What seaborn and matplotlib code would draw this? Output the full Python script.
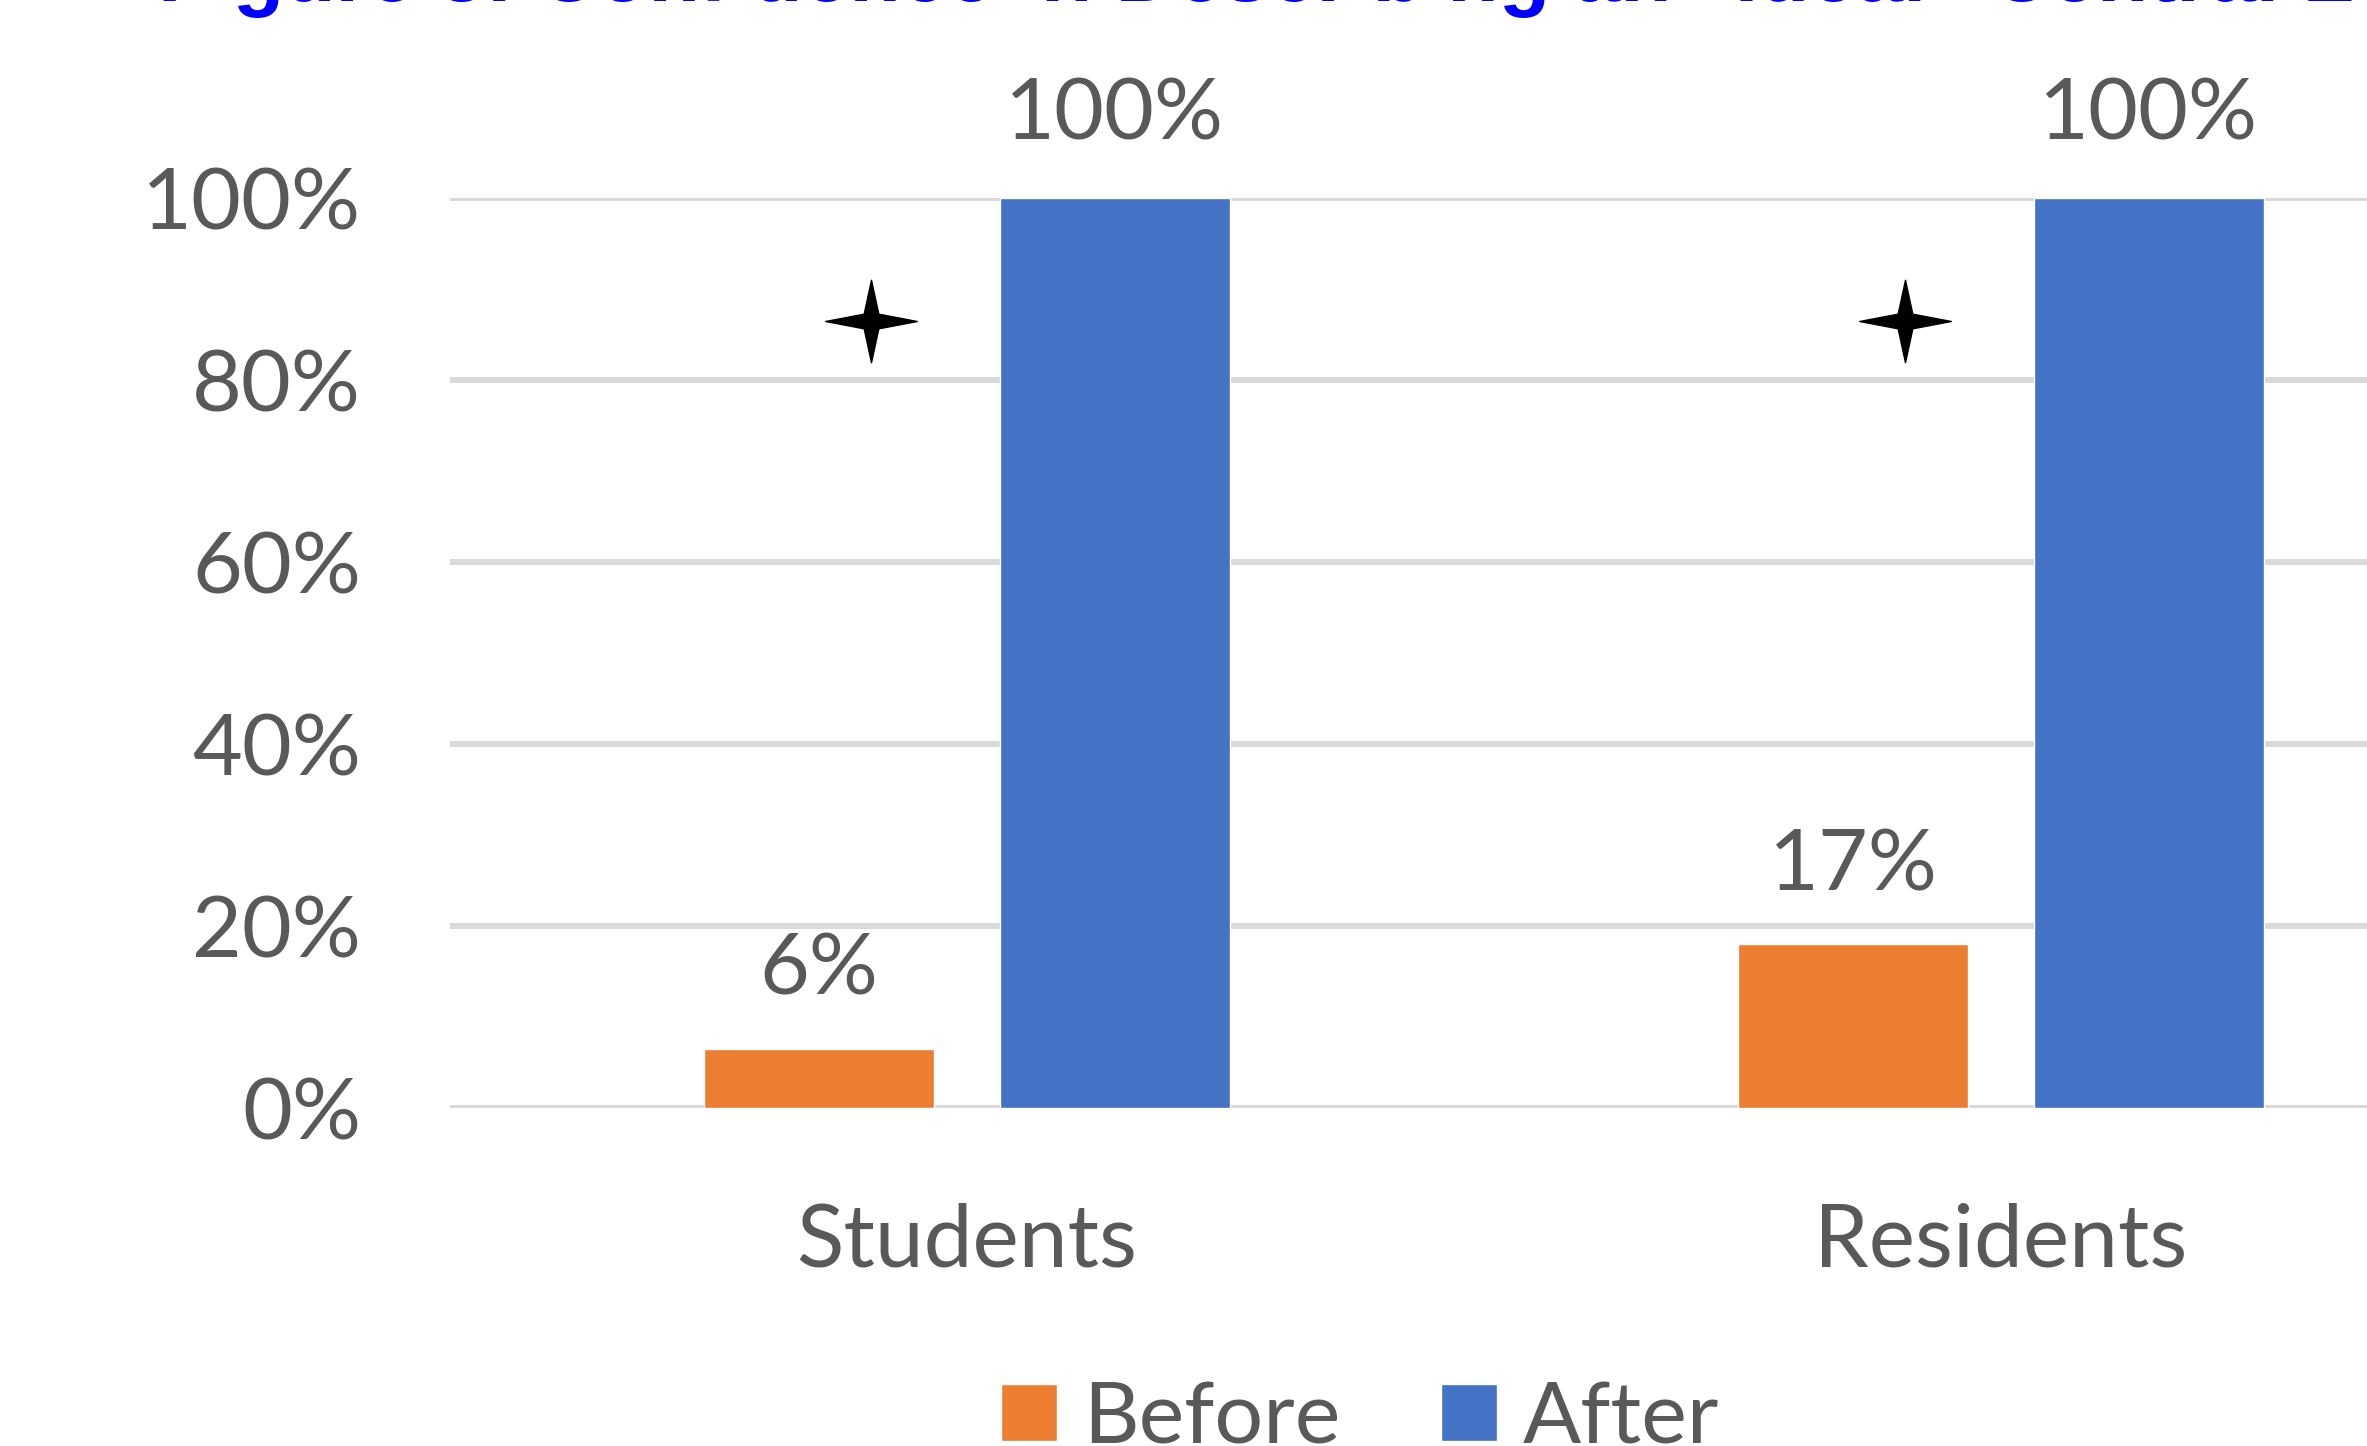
import numpy as np
import pandas as pd
import matplotlib
matplotlib.use('Agg')
import matplotlib.pyplot as plt
from matplotlib.path import Path
from matplotlib.patches import Patch
import seaborn as sns

# chart data
groups = ['Students', 'Residents']
series = ['Before', 'After']
before_vals = [0.065, 0.18]
after_vals = [1.0, 1.0]
before_labels = ['6%', '17%']
after_labels = ['100%', '100%']
sig_level = [0.865, 0.865]  # height of the significance stars
y_ticks = [0, 0.2, 0.4, 0.6, 0.8, 1.0]
y_tick_labels = ['0%', '20%', '40%', '60%', '80%', '100%']
title = 'Figure 3: Confidence in Describing an "Ideal" Central Line Exam'

colors = {'Before': '#ED7D31', 'After': '#4472C4'}
txt_col = '#595959'
grid_col = '#D9D9D9'

# long format table for seaborn
df = pd.DataFrame({
    'group': groups * 2,
    'series': [series[0]] * len(groups) + [series[1]] * len(groups),
    'value': before_vals + after_vals,
})

sns.set_theme(style='white')
plt.rcParams['font.family'] = ['Lato', 'DejaVu Sans']

fig = plt.figure(figsize=(23.67, 14.46), dpi=100)
W, H = 2367, 1446
# plot area runs past the right edge, like the cropped original
ax = fig.add_axes([450 / W, 1 - 1108 / H, 2068 / W, 910 / H])

sns.barplot(data=df, x='group', y='value', hue='series', hue_order=series,
            order=groups, palette=colors, width=0.572, gap=0.22,
            saturation=1, legend=False, ax=ax)

ax.set_xlim(-0.5, 1.5)
ax.set_ylim(0, 1.0)
ax.set_yticks(y_ticks)
ax.set_yticklabels(y_tick_labels)
ax.set_xlabel('')
ax.set_ylabel('')
ax.tick_params(axis='y', length=0, pad=64, labelsize=62, labelcolor=txt_col)
ax.tick_params(axis='x', length=0, pad=68, labelsize=63, labelcolor=txt_col)
ax.grid(axis='y', color=grid_col, linewidth=4.3, zorder=0)
ax.set_axisbelow(True)
for s in ax.spines.values():
    s.set_visible(False)

# data labels
ax.bar_label(ax.containers[0], labels=before_labels, padding=28,
             fontsize=62, color=txt_col)
ax.bar_label(ax.containers[1], labels=after_labels, padding=31,
             fontsize=62, color=txt_col)

# four point star marker
star = Path([(0, 0.9), (0.16, 0.16), (1, 0), (0.16, -0.16), (0, -0.9),
             (-0.16, -0.16), (-1, 0), (-0.16, 0.16), (0, 0.9)],
            [Path.MOVETO] + [Path.LINETO] * 7 + [Path.CLOSEPOLY])
ax.plot(np.arange(len(groups)) - 0.093, sig_level, linestyle='none',
        marker=star, markersize=66, color='black', clip_on=False, zorder=5)

# legend at the (cut off) bottom
handles = [Patch(facecolor=colors[s], label=s) for s in series]
fig.legend(handles=handles, loc='center', bbox_to_anchor=(1360 / W, 1 - 1419 / H),
           ncol=2, frameon=False, fontsize=62, labelcolor=txt_col,
           handlelength=0.65, handleheight=0.65, handletextpad=0.3,
           columnspacing=1.17, borderpad=0)

# title, only its lower edge shows in the reference
fig.text(158 / W, 1 - 1 / H, title, ha='left', va='baseline', fontsize=60.5,
         fontweight='bold', color='#0000FF', family=['Liberation Sans', 'DejaVu Sans'])

fig.savefig('out.png', dpi=100)
